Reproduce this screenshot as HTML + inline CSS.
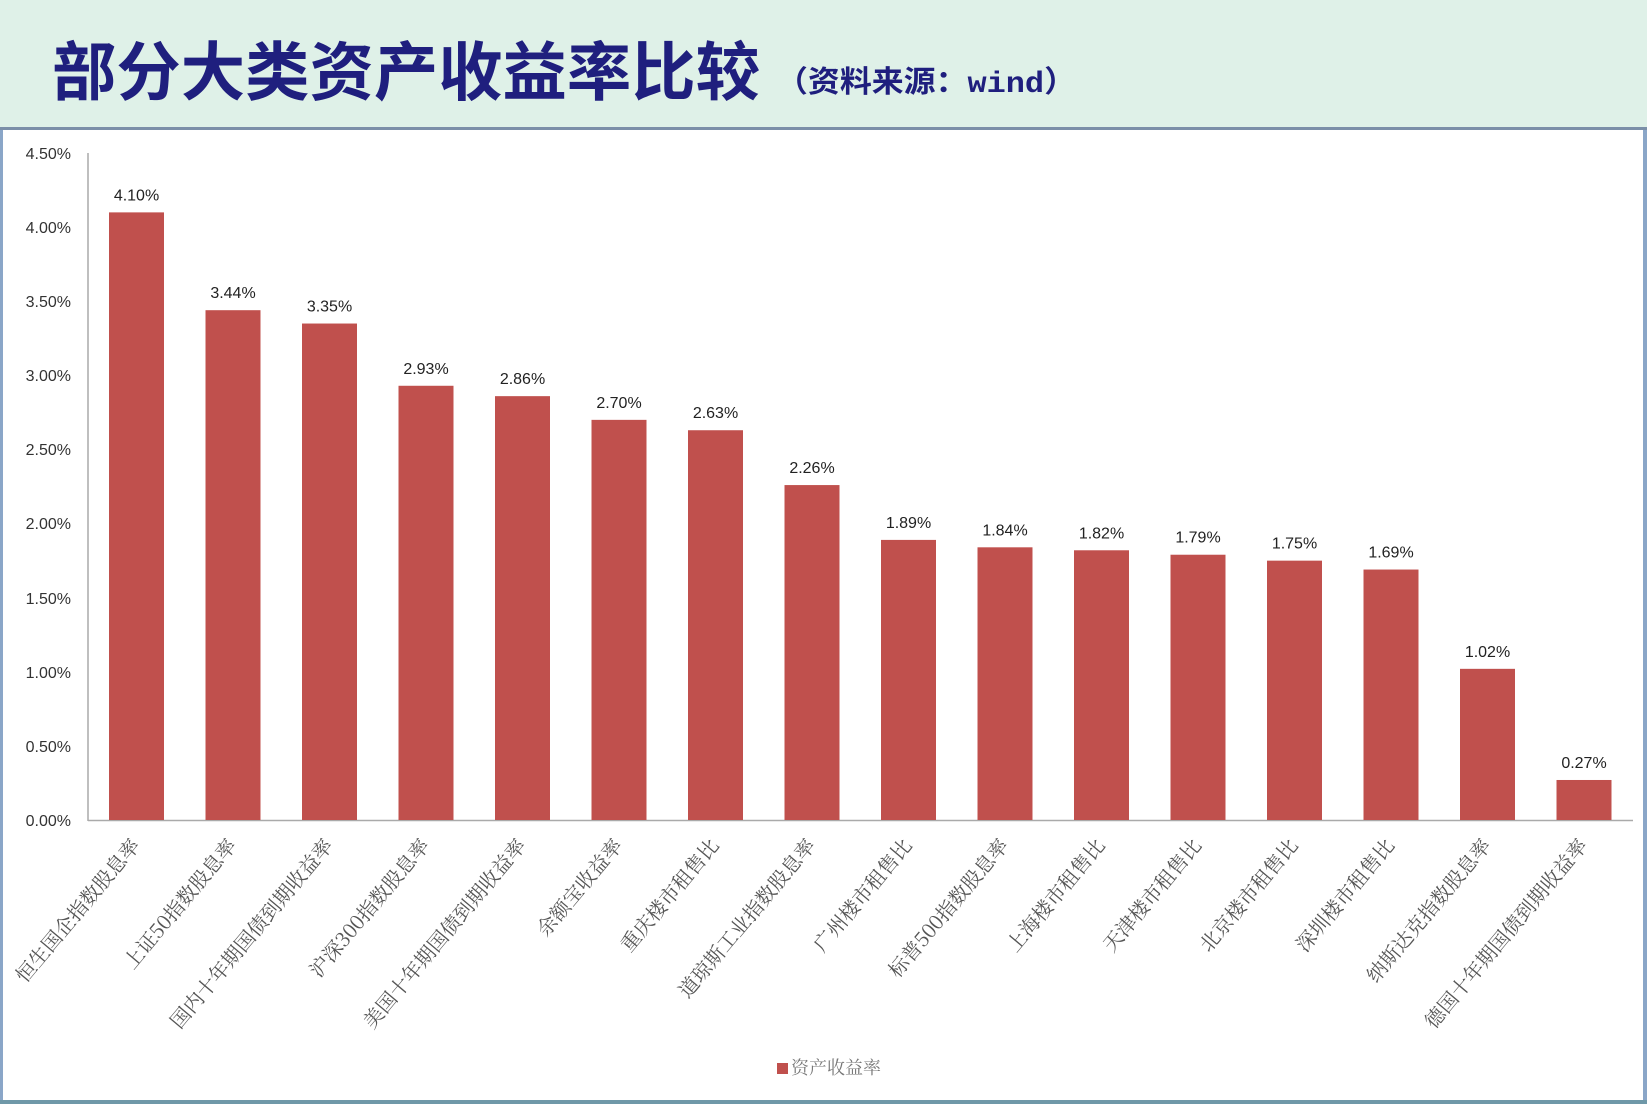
<!DOCTYPE html>
<html><head><meta charset="utf-8"><style>
html,body{margin:0;padding:0;background:#fff;}
body{width:1647px;height:1104px;overflow:hidden;position:relative;}
</style></head><body>
<svg width="1647" height="1104" xmlns="http://www.w3.org/2000/svg" style="position:absolute;left:0;top:0">
<rect x="0" y="0" width="1647" height="128" fill="#dff1e8"/>
<rect x="0" y="127" width="1647" height="3" fill="#7b8fa8"/>
<rect x="0" y="130" width="3" height="974" fill="#8aa6c8"/>
<rect x="1643" y="130" width="4" height="974" fill="#8aa6c8"/>
<rect x="0" y="1100" width="1647" height="4" fill="#6f98a8"/>
<text x="52" y="95" font-family="'Noto Sans CJK SC',sans-serif" font-weight="bold" font-size="64" fill="#1f1f7e" textLength="708" lengthAdjust="spacingAndGlyphs">部分大类资产收益率比较</text>
<text x="776" y="92" font-family="'Liberation Mono','Noto Sans CJK SC',sans-serif" font-weight="bold" font-size="30" fill="#1f1f7e" textLength="300" lengthAdjust="spacingAndGlyphs">（资料来源：wind）</text>
<g font-family="'Liberation Sans',sans-serif" font-size="16" fill="#333" text-anchor="end">
<text x="71" y="159">4.50%</text><text x="71" y="233">4.00%</text><text x="71" y="307">3.50%</text>
<text x="71" y="381">3.00%</text><text x="71" y="455">2.50%</text><text x="71" y="529">2.00%</text>
<text x="71" y="604">1.50%</text><text x="71" y="678">1.00%</text><text x="71" y="752">0.50%</text>
<text x="71" y="826">0.00%</text>
</g>
<line x1="88" y1="153" x2="88" y2="821" stroke="#aaa" stroke-width="1.5"/>
<line x1="88" y1="820.5" x2="1633" y2="820.5" stroke="#aaa" stroke-width="1.5"/>
<g id="bars" fill="#c0504d"></g>
<g id="vals" font-family="'Liberation Sans',sans-serif" font-size="16" fill="#222" text-anchor="middle"></g>
<g id="cats" font-family="'Noto Serif CJK SC',serif" font-size="20" fill="#555" text-anchor="end"></g>
<rect x="777" y="1063" width="11" height="11" fill="#c0504d"/>
<text x="791" y="1074" font-family="'Noto Serif CJK SC',serif" font-size="18" fill="#777">资产收益率</text>
</svg>
<script>
var v=[4.10,3.44,3.35,2.93,2.86,2.70,2.63,2.26,1.89,1.84,1.82,1.79,1.75,1.69,1.02,0.27];
var c=["恒生国企指数股息率","上证50指数股息率","国内十年期国债到期收益率","沪深300指数股息率","美国十年期国债到期收益率","余额宝收益率","重庆楼市租售比","道琼斯工业指数股息率","广州楼市租售比","标普500指数股息率","上海楼市租售比","天津楼市租售比","北京楼市租售比","深圳楼市租售比","纳斯达克指数股息率","德国十年期国债到期收益率"];
var ns="http://www.w3.org/2000/svg",b=document.getElementById("bars"),t=document.getElementById("vals"),k=document.getElementById("cats");
for(var i=0;i<16;i++){var x=109+i*96.5,h=v[i]*148.2,y=820-h;
var r=document.createElementNS(ns,"rect");r.setAttribute("x",x);r.setAttribute("y",y);r.setAttribute("width",55);r.setAttribute("height",h);b.appendChild(r);
var s=document.createElementNS(ns,"text");s.setAttribute("x",x+27.5);s.setAttribute("y",y-12);s.textContent=v[i].toFixed(2)+"%";t.appendChild(s);
var q=document.createElementNS(ns,"text");var cx=x+32,cy=846;q.setAttribute("x",cx);q.setAttribute("y",cy);q.setAttribute("transform","rotate(-50 "+cx+" "+cy+")");q.textContent=c[i];k.appendChild(q);}
</script>
</body></html>
